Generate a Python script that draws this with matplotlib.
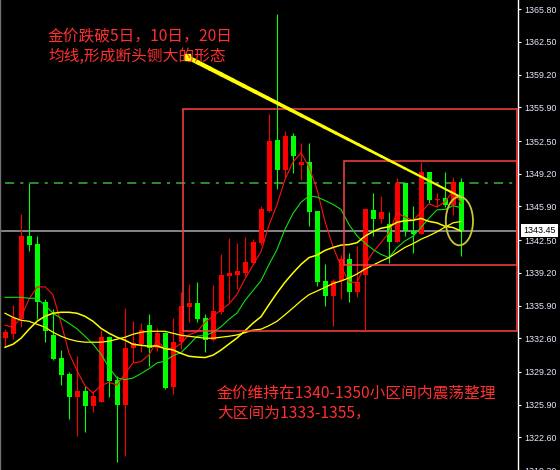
import matplotlib
matplotlib.use('Agg')
import matplotlib.pyplot as plt
import matplotlib.transforms as mtransforms
import numpy as np
from matplotlib.patches import Rectangle, Ellipse
from matplotlib.collections import LineCollection

plt.rcParams['font.family'] = ['Liberation Sans', 'DejaVu Sans']
CJK = ['Noto Sans CJK SC', 'DejaVu Sans']

# Gold candles (open, high, low, close)
opens = [1332.60, 1333.00, 1334.51, 1342.87, 1342.07, 1336.23, 1332.90, 1330.59, 1328.97, 1326.66,
         1327.26, 1325.76, 1326.16, 1332.70, 1328.37, 1325.86, 1331.59, 1332.00, 1333.91, 1331.59,
         1333.10, 1327.67, 1332.20, 1335.72, 1336.13, 1334.61, 1332.40, 1335.22, 1338.84, 1338.94,
         1339.14, 1340.15, 1342.17, 1345.49, 1352.64, 1349.62, 1353.04, 1350.12, 1350.42, 1345.49,
         1338.34, 1336.83, 1338.34, 1340.55, 1337.23, 1338.94, 1345.59, 1344.68, 1344.08, 1342.27,
         1348.31, 1343.47, 1343.07, 1349.42, 1346.60, 1346.80, 1346.09, 1348.41]
highs = [1333.50, 1335.93, 1345.09, 1348.31, 1342.87, 1336.53, 1335.52, 1331.39, 1329.18, 1330.79,
         1327.77, 1327.26, 1333.40, 1332.80, 1328.77, 1335.62, 1334.31, 1334.11, 1335.01, 1333.61,
         1333.20, 1334.61, 1337.23, 1338.04, 1338.24, 1335.01, 1337.94, 1341.06, 1342.67, 1342.17,
         1342.77, 1342.57, 1345.99, 1355.26, 1365.33, 1353.54, 1353.34, 1352.34, 1352.34, 1345.49,
         1340.05, 1338.54, 1340.96, 1341.16, 1341.86, 1345.69, 1347.30, 1347.00, 1345.29, 1348.81,
         1348.31, 1345.99, 1350.42, 1349.42, 1347.30, 1349.42, 1348.91, 1348.81]
lows = [1331.79, 1332.50, 1333.71, 1341.36, 1334.51, 1332.20, 1330.39, 1327.87, 1324.45, 1322.74,
        1323.14, 1325.15, 1326.16, 1326.66, 1320.11, 1320.72, 1330.19, 1331.19, 1329.78, 1331.29,
        1327.47, 1326.96, 1331.49, 1334.21, 1334.21, 1331.19, 1332.30, 1335.01, 1336.23, 1337.54,
        1338.84, 1340.05, 1341.96, 1345.29, 1347.70, 1348.91, 1349.31, 1348.61, 1343.88, 1337.84,
        1335.82, 1333.81, 1336.53, 1336.23, 1336.73, 1333.40, 1342.87, 1344.18, 1340.15, 1342.27,
        1342.87, 1341.16, 1343.07, 1346.29, 1345.89, 1345.89, 1345.00, 1340.86]
closes = [1333.20, 1334.61, 1342.87, 1341.96, 1336.23, 1333.30, 1330.49, 1328.87, 1326.66, 1327.26,
          1325.76, 1326.76, 1332.70, 1328.27, 1325.86, 1331.59, 1332.10, 1333.40, 1331.59, 1333.10,
          1327.57, 1332.20, 1335.82, 1336.13, 1334.51, 1332.40, 1335.32, 1338.94, 1339.14, 1339.34,
          1340.25, 1342.27, 1345.69, 1352.54, 1349.62, 1353.04, 1351.03, 1350.42, 1345.39, 1338.24,
          1336.83, 1338.34, 1340.55, 1337.23, 1338.24, 1345.69, 1344.68, 1345.39, 1342.27, 1348.31,
          1343.47, 1343.07, 1349.42, 1346.60, 1346.70, 1346.09, 1348.41, 1343.45]

# moving averages as shown on the chart
ma5 = [1333.91, 1333.71, 1334.71, 1336.53, 1337.77, 1337.79, 1336.97, 1334.17, 1331.11, 1329.32,
       1327.80, 1327.06, 1327.82, 1328.15, 1327.87, 1329.03, 1330.10, 1330.24, 1330.91, 1332.36,
       1331.55, 1331.57, 1332.05, 1332.96, 1333.24, 1334.21, 1334.83, 1335.46, 1336.06, 1337.03,
       1338.60, 1339.99, 1341.34, 1344.02, 1346.07, 1348.63, 1350.38, 1351.33, 1349.90, 1347.62,
       1344.38, 1341.84, 1339.87, 1338.24, 1338.24, 1340.01, 1341.28, 1342.25, 1343.25, 1345.27,
       1344.82, 1344.50, 1345.31, 1346.17, 1345.85, 1346.37, 1347.44, 1346.25]
ma10 = [1336.73, 1336.73, 1336.73, 1336.63, 1336.63, 1335.92, 1335.12, 1334.61, 1334.11, 1333.55,
        1332.80, 1332.01, 1331.00, 1329.63, 1328.59, 1328.42, 1328.58, 1329.03, 1329.53, 1330.11,
        1330.29, 1330.84, 1331.15, 1331.93, 1332.80, 1332.88, 1333.20, 1333.76, 1334.51, 1335.14,
        1336.41, 1337.41, 1338.40, 1340.04, 1341.55, 1343.61, 1345.19, 1346.33, 1346.96, 1346.85,
        1346.50, 1346.11, 1345.60, 1344.07, 1342.93, 1342.19, 1341.56, 1341.06, 1340.74, 1341.75,
        1342.42, 1342.89, 1343.78, 1344.71, 1345.56, 1345.60, 1345.97, 1345.78]
ma20 = [1331.69, 1331.99, 1332.60, 1333.50, 1334.31, 1334.81, 1335.12, 1335.22, 1335.22, 1335.12,
        1334.81, 1334.31, 1333.60, 1333.10, 1332.70, 1332.40, 1331.99, 1331.89, 1331.79, 1331.83,
        1331.55, 1331.42, 1331.07, 1330.78, 1330.70, 1330.65, 1330.89, 1331.40, 1332.02, 1332.62,
        1333.35, 1334.12, 1334.77, 1335.99, 1337.17, 1338.25, 1339.19, 1340.05, 1340.74, 1340.99,
        1341.46, 1341.76, 1342.00, 1342.05, 1342.24, 1342.90, 1343.37, 1343.70, 1343.85, 1344.30,
        1344.46, 1344.50, 1344.69, 1344.39, 1344.24, 1343.90, 1343.77, 1343.42]
ma30 = [1335.12, 1334.71, 1334.41, 1334.31, 1334.01, 1333.71, 1333.20, 1332.80, 1332.50, 1332.30,
        1332.20, 1332.20, 1332.20, 1332.30, 1332.50, 1332.70, 1333.00, 1333.20, 1333.30, 1333.30,
        1333.30, 1333.10, 1332.90, 1332.80, 1332.70, 1332.60, 1332.60, 1332.70, 1332.80, 1332.93,
        1333.16, 1333.42, 1333.51, 1333.87, 1334.31, 1334.97, 1335.66, 1336.37, 1337.00, 1337.36,
        1337.73, 1338.12, 1338.38, 1338.68, 1339.09, 1339.57, 1339.98, 1340.38, 1340.74, 1341.25,
        1341.77, 1342.14, 1342.59, 1342.94, 1343.34, 1343.81, 1344.24, 1344.39]

# price axis labels (terminal style)
ytick_vals = [1365.80, 1362.50, 1359.20, 1355.90, 1352.50, 1349.20, 1345.90, 1342.50,
              1339.20, 1335.90, 1332.60, 1329.20, 1325.90, 1322.60, 1319.30]

last_price = 1343.45
resistance = 1348.31
big_box = (22.25, 1333.30, 1355.70)     # left index, bottom, top
small_box = (42.375, 1339.95, 1350.47)

text_top = ['金价跌破5日，10日，20日', '均线,形成断头铡大的形态']
text_bottom = ['金价维持在1340-1350小区间内震荡整理', '大区间为1333-1355，']

fig = plt.figure(figsize=(5.6, 4.7), dpi=100, facecolor='black')
ax = fig.add_axes([0, 0, 518 / 560, 1], facecolor='black')

x = np.arange(len(closes))
o = np.array(opens)
c = np.array(closes)
colors = np.where(c >= o, '#ff0000', '#00ff00')

# reference lines behind the candles
ax.axhline(last_price, color='#9a9aa8', lw=1.2, zorder=1)
ax.hlines(resistance, 0, 64.2, colors='#3cb43c', lw=1.1, linestyles=(0, (6, 4, 2, 4)), zorder=1)

# candles
ax.vlines(x, lows, highs, colors=colors, lw=0.8, zorder=3)
ax.bar(x, np.maximum(np.abs(c - o), 0.08), bottom=np.minimum(o, c), width=0.625,
       color=colors, lw=0, zorder=4)

# moving averages
ax.plot(x, ma5, color='#ff1010', lw=0.8, zorder=5)
ax.plot(x, ma10, color='#10e010', lw=0.8, zorder=5)
ax.plot(x, ma20, color='#ffff00', lw=1.1, zorder=5)
ax.plot(x, ma30, color='#ffff00', lw=0.9, zorder=5)

# range boxes
for left, bottom, top in (big_box, small_box):
    ax.add_patch(Rectangle((left, bottom), 64.0 - left, top - bottom, fill=False,
                           ec='#ff4040', lw=1.1, zorder=6))

# tapered yellow pointer from the note to the last candles
p0 = np.array([22.75, 1361.0])
p1 = np.array([57.1, 1346.8])
t = np.linspace(0, 1, 25)
pts = p0 + (p1 - p0) * t[:, None]
segs = np.stack([pts[:-1], pts[1:]], axis=1)
ax.add_collection(LineCollection(segs, colors='#ffff00', linewidths=np.linspace(3.2, 1.4, 24),
                                 capstyle='round', zorder=7))
ax.plot(p0[0], p0[1], marker='s', ms=4, color='#ffff00', zorder=7)

# ellipse around the last candle
ax.add_patch(Ellipse((56.8, 1344.43), 3.4, 4.9, fill=False, ec='#c8c832', lw=1.3, zorder=7))

# notes
for i, s in enumerate(text_top):
    ax.text(48 / 518, 1 - (36.5 + 19.5 * i) / 470, s, transform=ax.transAxes, family=CJK,
            fontsize=11.3, color='#ff3030', va='center', ha='left', zorder=8)
for i, s in enumerate(text_bottom):
    ax.text(217 / 518, 1 - (393 + 20 * i) / 470, s, transform=ax.transAxes, family=CJK,
            fontsize=11.3, color='#ff3030', va='center', ha='left', zorder=8)

ax.set_xlim(-0.625, 64.125)
ax.set_ylim(1319.40, 1366.737)
ax.set_xticks([])
ax.yaxis.tick_right()
ax.set_yticks(ytick_vals)
ax.set_yticklabels(['%.2f' % v for v in ytick_vals])
ax.tick_params(axis='y', colors='white', labelcolor='#e8e8ff', labelsize=6.4,
               length=2.5, width=0.8, pad=2)
for side in ('top', 'bottom'):
    ax.spines[side].set_visible(False)
ax.spines['right'].set_color('white')
ax.spines['right'].set_linewidth(1)
ax.spines['left'].set_color('#707070')
ax.spines['left'].set_linewidth(1)

# current price tag
trans = mtransforms.blended_transform_factory(ax.transAxes, ax.transData)
ax.text(1 + 5 / 518, last_price, '%.2f' % last_price, transform=trans, fontsize=6.4,
        color='black', ha='left', va='center', clip_on=False, zorder=9,
        bbox=dict(boxstyle='square,pad=0.25', fc='white', ec='none'))

fig.savefig('out.png', dpi=100, facecolor='black')
